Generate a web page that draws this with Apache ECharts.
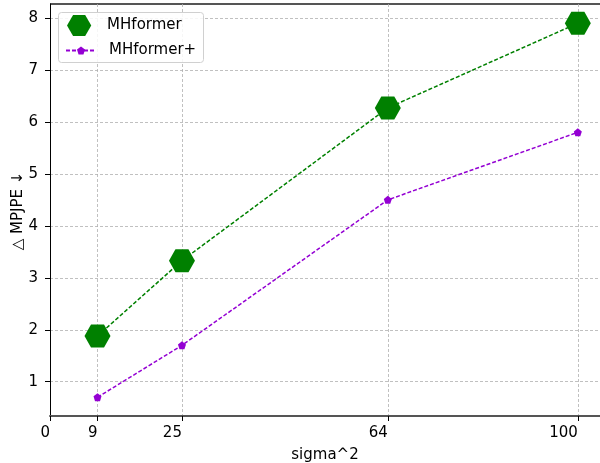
<!DOCTYPE html>
<html lang="en">
<head>
<meta charset="UTF-8">
<title>MPJPE vs sigma^2</title>
<script src="https://cdn.jsdelivr.net/npm/echarts@6/dist/echarts.min.js"></script>
<style>
    html, body { margin: 0; padding: 0; background: #fff; }
    #chartmain { width: 600px; height: 463px; }
</style>
</head>
<body>
<div id="chartmain"></div>
<script>
    // data
    var sigmaSq = [9, 25, 64, 100];
    var mhformer = [1.88, 3.33, 6.27, 7.9];
    var mhformerPlus = [0.7, 1.7, 4.5, 5.8];
    var xTicks = [0, 9, 25, 64, 100];
    var yTicks = [1, 2, 3, 4, 5, 6, 7, 8];

    // flat-top hexagon (matplotlib 'H') and pentagon ('p')
    var hexagon = 'path://M0,433L250,0L750,0L1000,433L750,866L250,866Z';
    var pentagon = 'path://M500,0L975,345L794,904L206,904L25,345Z';

    function pairs(xs, ys) {
        return xs.map(function (x, i) { return [x, ys[i]]; });
    }

    var font = 'DejaVu Sans';
    var fs = 15;
    var gridLine = {show: true, lineStyle: {color: '#b0b0b0', type: [3, 2], width: 0.8}};
    var legendText = {fontFamily: font, fontSize: fs, color: '#000'};

    var option = {
        animation: false,
        textStyle: {fontFamily: font},
        grid: {left: 50, right: 0, top: 4, bottom: 47, show: false, containLabel: false, outerBoundsMode: 'none'},
        legend: [{
            // first row: big hexagon
            left: 67, top: 15, padding: 0, z: 6,
            itemWidth: 26, itemHeight: 21,
            textStyle: Object.assign({padding: [0, 0, 0, 10]}, legendText),
            data: [{name: 'MHformer', icon: hexagon}]
        }, {
            // second row: dashed line + small pentagon
            left: 65, top: 43, padding: 0, z: 6,
            itemWidth: 30, itemHeight: 10,
            textStyle: Object.assign({padding: [0, 0, 0, 8]}, legendText),
            data: ['MHformer+']
        }],
        xAxis: {
            type: 'value', min: 0, max: 104.2,
            name: 'sigma^2', nameLocation: 'middle', nameGap: 32,
            nameTextStyle: {fontFamily: font, fontSize: fs, color: '#000'},
            axisLine: {show: true, onZero: false, lineStyle: {color: '#555', width: 2}},
            axisTick: {show: true, customValues: xTicks, length: 5, lineStyle: {color: '#000'}},
            axisLabel: {customValues: xTicks, align: 'right', fontFamily: font, fontSize: fs, color: '#000', margin: 10},
            splitLine: gridLine
        },
        yAxis: {
            type: 'value', min: 0.34, max: 8.27,
            axisLine: {show: true, onZero: false, lineStyle: {color: '#000', width: 1}},
            axisTick: {show: true, customValues: yTicks, length: 5, lineStyle: {color: '#000'}},
            axisLabel: {customValues: yTicks, fontFamily: font, fontSize: fs, color: '#000', margin: 12},
            splitLine: gridLine
        },
        series: [{
            name: 'MHformer',
            type: 'line',
            data: pairs(sigmaSq, mhformer),
            symbol: hexagon, symbolSize: [26, 23],
            itemStyle: {color: '#008000'},
            lineStyle: {color: '#008000', width: 1.5, type: [4, 2]},
            z: 3
        }, {
            name: 'MHformer+',
            type: 'line',
            data: pairs(sigmaSq, mhformerPlus),
            symbol: pentagon, symbolSize: 8,
            itemStyle: {color: '#9400d3'},
            lineStyle: {color: '#9400d3', width: 1.5, type: [4, 2]},
            z: 2
        }],
        graphic: [{
            // top spine
            type: 'line', shape: {x1: 50, y1: 4, x2: 600, y2: 4},
            style: {stroke: '#555', lineWidth: 2}
        }, {
            // legend frame
            type: 'rect', z: 5,
            shape: {x: 58.5, y: 12.5, width: 145, height: 50, r: 3},
            style: {fill: 'rgba(255,255,255,0.85)', stroke: '#d0d0d0', lineWidth: 1}
        }, {
            // y axis title
            type: 'text', x: 18, y: 211, rotation: Math.PI / 2,
            style: {text: '△ MPJPE ↓', font: fs + 'px "DejaVu Sans"', fill: '#000', align: 'center', verticalAlign: 'middle'}
        }]
    };

    var myChart = echarts.init(document.getElementById('chartmain'));
    myChart.setOption(option);
</script>
</body>
</html>
